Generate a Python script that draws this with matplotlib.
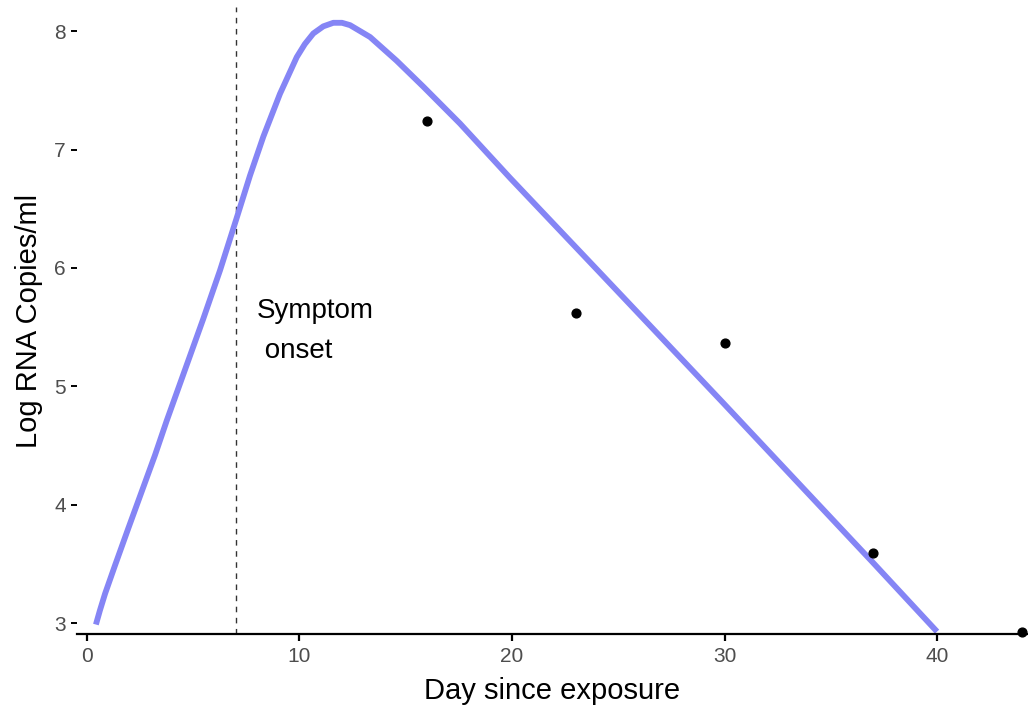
import matplotlib.pyplot as plt

plt.rcParams['font.family'] = ['Liberation Sans', 'DejaVu Sans']

# observed samples
obs_day = [16, 23, 30, 37, 44]
obs_log = [7.24, 5.62, 5.37, 3.59, 2.93]

# model curve
fit_day = [0.42, 0.61, 0.85, 1.32, 1.94, 2.57, 3.20, 3.75, 4.53, 5.47,
           6.26, 7.04, 7.67, 8.30, 9.08, 9.87, 10.25, 10.65, 11.12, 11.59,
           12.00, 12.38, 13.32, 14.57, 15.83, 17.55, 19.91, 24.14, 29.94,
           37.0, 40.0]
fit_log = [2.99, 3.11, 3.25, 3.49, 3.80, 4.11, 4.42, 4.71, 5.10, 5.57,
           5.98, 6.42, 6.78, 7.11, 7.47, 7.78, 7.89, 7.98, 8.04, 8.07,
           8.07, 8.05, 7.95, 7.75, 7.53, 7.22, 6.76, 5.96, 4.86,
           3.51, 2.93]

onset_day = 7
x_ticks = [0, 10, 20, 30, 40]
y_ticks = [3, 4, 5, 6, 7, 8]

fig = plt.figure(figsize=(10.28, 7.05), dpi=100)
ax = fig.add_axes([0.0749, 0.1007, 0.9251, 0.8888])

ax.plot(fit_day, fit_log, color='#8585F5', lw=4.2, solid_capstyle='butt',
        solid_joinstyle='round', zorder=2)
ax.scatter(obs_day, obs_log, s=40, color='black', zorder=3, clip_on=False)
ax.axvline(onset_day, color='#333333', lw=1.0, ls=(0, (4, 4)), zorder=1)
ax.text(8.0, 5.47, 'Symptom\n onset', fontsize=20, ha='left', va='center',
        linespacing=1.7)

ax.set_xlim(-0.47, 44.28)
ax.set_ylim(2.91, 8.2)
ax.set_xticks(x_ticks)
ax.set_yticks(y_ticks)

for s in ['top', 'right', 'left']:
    ax.spines[s].set_visible(False)
ax.spines['bottom'].set_linewidth(1.6)
ax.spines['bottom'].set_color('black')

ax.tick_params(axis='x', length=5, width=1.6, color='black',
               labelsize=15, labelcolor='#4D4D4D', pad=4)
ax.tick_params(axis='y', length=4, width=1.4, color='black',
               labelsize=15, labelcolor='#4D4D4D', pad=4)

ax.set_xlabel('Day since exposure', fontsize=21, labelpad=8)
ax.set_ylabel('Log RNA Copies/ml', fontsize=21, labelpad=8)

fig.savefig('out.png', dpi=100)
